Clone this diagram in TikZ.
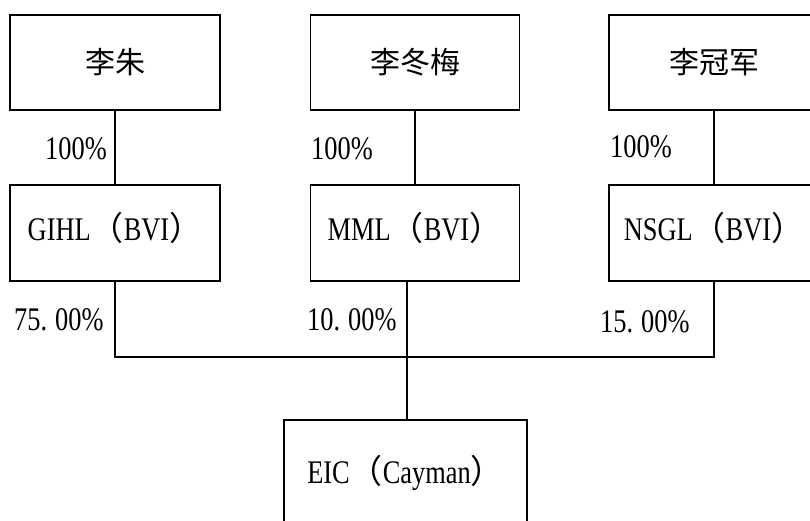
\documentclass[tikz,border=0pt]{standalone}
\usepackage{fontspec}
\setmainfont{Liberation Serif}[FakeStretch=0.8]
\newfontfamily\cjk{Noto Sans CJK SC}
\begin{document}
\begin{tikzpicture}[x=1pt,y=-1pt,
  box/.style={draw=black, line width=1.8pt, minimum width=210pt, minimum height=95pt, inner sep=0pt},
  lat/.style={font=\fontsize{33}{38}\selectfont, inner sep=0pt},
  zh/.style={font=\cjk\fontsize{30}{36}\selectfont, inner sep=0pt},
  conn/.style={line width=1.8pt, draw=black}]
\clip (0,0) rectangle (810,520);
\fill[white] (0,0) rectangle (810,520);
% top row
\node[box, zh] (A) at (115,62.5) {李朱};
\node[box, zh, minimum width=209pt] (B) at (415,62.5) {李冬梅};
\node[box, zh] (C) at (714,62.5) {李冠军};
% second row
\node[box, minimum height=96pt] (D) at (115,233) {};
\node[box, minimum height=96pt, minimum width=209pt] (E) at (415,233) {};
\node[box, minimum height=96pt] (F) at (714,233) {};
\node[lat] (Dt) at (115,228) {GIHL{\cjk （}BVI{\cjk ）}};
\node[lat] (Et) at (415,228) {MML{\cjk （}BVI{\cjk ）}};
\node[lat] (Ft) at (714,228) {NSGL{\cjk （}BVI{\cjk ）}};
% bottom
\node[box, minimum width=243pt, minimum height=104pt] (G) at (405.5,472) {};
\node[lat] (Gt) at (405.5,473) {EIC{\cjk （}Cayman{\cjk ）}};
% connectors
\coordinate (j) at (407,357);
\draw[conn] (A) -- (D);
\draw[conn] (B) -- (E);
\draw[conn] (C) -- (F);
\draw[conn] (D.south) |- (j);
\draw[conn] (F.south) |- (j);
\draw[conn] (E.south -| j) -- (G.north -| j);
% labels
\node[lat, anchor=base west] (l1) at (45,159) {100\%};
\node[lat, anchor=base west] (l2) at (311,159) {100\%};
\node[lat, anchor=base west] (l3) at (610,157) {100\%};
\node[lat, anchor=base west] (l4) at (14,330) {75.\kern8pt 00\%};
\node[lat, anchor=base west] (l5) at (307,330) {10.\kern8pt 00\%};
\node[lat, anchor=base west] (l6) at (600,332) {15.\kern8pt 00\%};
\end{tikzpicture}
\end{document}
